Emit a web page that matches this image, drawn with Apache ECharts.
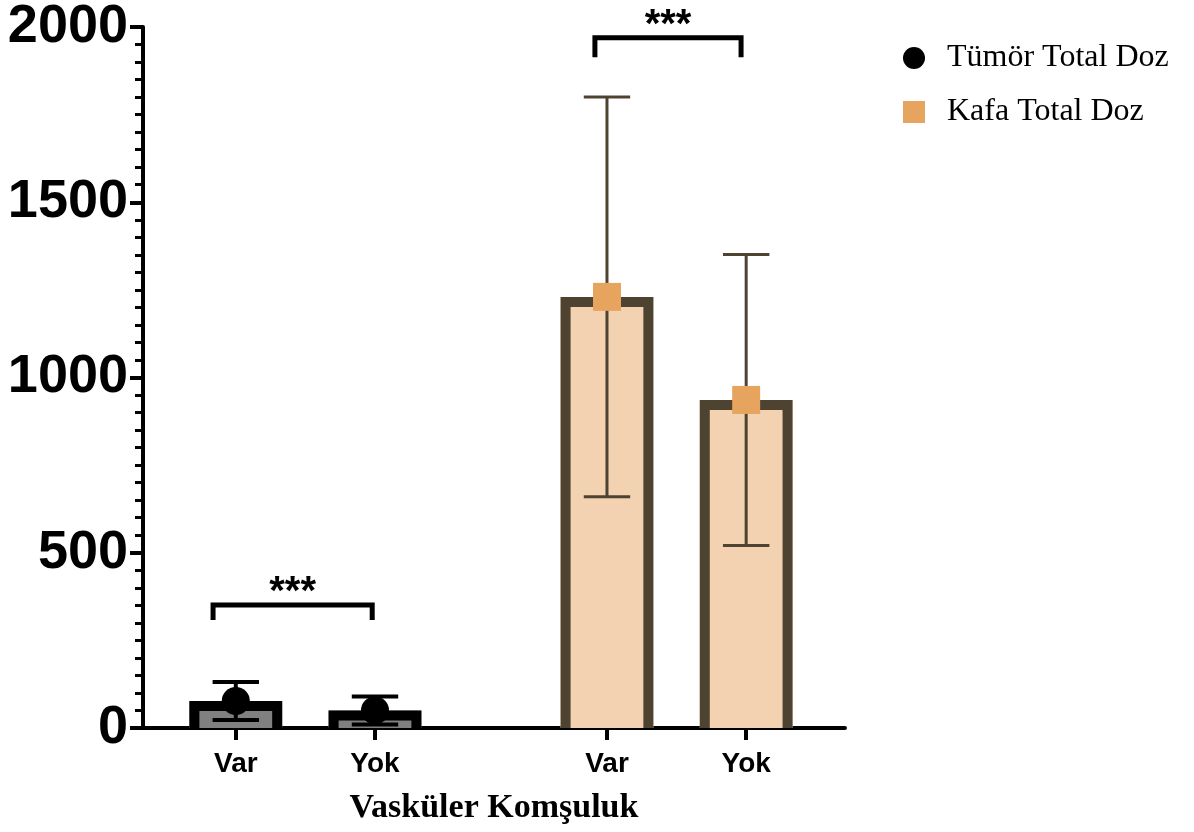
<!DOCTYPE html>
<html>
<head>
<meta charset="utf-8">
<script src="https://cdn.jsdelivr.net/npm/echarts@6/dist/echarts.min.js"></script>
<style>
  html, body { margin: 0; padding: 0; background: #ffffff; }
  #chart { width: 1194px; height: 832px; }
</style>
</head>
<body>
<div id="chart"></div>
<script>
// Vascular contact (Var = present, Yok = absent) for two dose measures
const categories = ['Var', 'Yok', 'Var', 'Yok'];
const xSlots = [2, 5, 10, 13];          // position of each group on the x axis
const tumorMean = [77, 50];
const tumorSD = [54, 40];
const headMean = [1230, 936];
const headSD = [570, 415];
const yTicks = [0, 500, 1000, 1500, 2000];
const seriesNames = ['Tümör Total Doz', 'Kafa Total Doz'];
const axisTitle = 'Vasküler Komşuluk';
const sigLabel = '***';
// significance brackets: [x from, x to, bracket level, leg end level]
const brackets = [
  [1.51, 4.94, 351, 308],
  [9.74, 12.89, 1969, 1914]
];

const SANS = '"Liberation Sans", Arial, Helvetica, sans-serif';
const SERIF = '"Liberation Serif", "Times New Roman", serif';
const BAR_SPAN = 2;   // bar width in x-axis units
const CAP_SPAN = 1;   // error cap width in x-axis units
const BORDER = 10;

const groupStyle = [
  { fill: '#808080', stroke: '#000000', err: '#000000', errWidth: 4 },
  { fill: '#F2D2B0', stroke: '#4E4231', err: '#4E4231', errWidth: 3 }
];

// rows: [x, mean, sd, group]
const rows = [];
tumorMean.forEach((m, i) => rows.push([xSlots[i], m, tumorSD[i], 0]));
headMean.forEach((m, i) => rows.push([xSlots[i + 2], m, headSD[i], 1]));

// open-bottom bar: filled body with a thick frame on the left, top and right
function renderBar(params, api) {
  const x = api.value(0), v = api.value(1), g = api.value(3);
  const top = api.coord([x, v]);
  const base = api.coord([x, 0]);
  const w = api.size([BAR_SPAN, 0])[0];
  const st = groupStyle[g];
  const l = top[0] - w / 2, r = top[0] + w / 2;
  const h = BORDER / 2;
  return {
    type: 'group',
    children: [
      {
        type: 'rect',
        shape: { x: l, y: top[1], width: w, height: base[1] - top[1] },
        style: { fill: st.fill }
      },
      {
        type: 'polyline',
        shape: { points: [[l + h, base[1]], [l + h, top[1] + h], [r - h, top[1] + h], [r - h, base[1]]] },
        style: { stroke: st.stroke, lineWidth: BORDER, fill: null, lineJoin: 'miter', lineCap: 'butt' }
      }
    ]
  };
}

function renderError(params, api) {
  const x = api.value(0), m = api.value(1), sd = api.value(2), g = api.value(3);
  const hi = api.coord([x, m + sd]);
  const lo = api.coord([x, m - sd]);
  const half = api.size([CAP_SPAN, 0])[0] / 2;
  const st = groupStyle[g];
  const ls = { stroke: st.err, lineWidth: st.errWidth };
  return {
    type: 'group',
    children: [
      { type: 'line', shape: { x1: hi[0], y1: hi[1], x2: lo[0], y2: lo[1] }, style: ls },
      { type: 'line', shape: { x1: hi[0] - half, y1: hi[1], x2: hi[0] + half, y2: hi[1] }, style: ls },
      { type: 'line', shape: { x1: lo[0] - half, y1: lo[1], x2: lo[0] + half, y2: lo[1] }, style: ls }
    ]
  };
}

function renderBracket(params, api) {
  const x1 = api.value(0), x2 = api.value(1), y = api.value(2), yLeg = api.value(3);
  const a = api.coord([x1, y]);
  const b = api.coord([x2, y]);
  const aLeg = api.coord([x1, yLeg]);
  const bLeg = api.coord([x2, yLeg]);
  return {
    type: 'group',
    children: [
      {
        type: 'polyline',
        shape: { points: [[aLeg[0], aLeg[1]], [a[0], a[1]], [b[0], b[1]], [bLeg[0], bLeg[1]]] },
        style: { stroke: '#000', lineWidth: 5, fill: null, lineJoin: 'miter' }
      },
      {
        type: 'text',
        x: (a[0] + b[0]) / 2,
        y: a[1] - 12,
        style: {
          text: sigLabel, fill: '#000', font: 'bold 40px ' + SANS,
          align: 'center', verticalAlign: 'middle'
        }
      }
    ]
  };
}

const chart = echarts.init(document.getElementById('chart'), null, { renderer: 'canvas' });

chart.setOption({
  backgroundColor: '#ffffff',
  animation: false,
  grid: { left: 143, right: 349, top: 27, bottom: 104, containLabel: false },
  legend: {
    orient: 'vertical',
    left: 898,
    top: 37,
    itemWidth: 22,
    itemHeight: 22,
    itemGap: 22,
    selectedMode: false,
    data: [
      { name: seriesNames[0], icon: 'circle' },
      { name: seriesNames[1], icon: 'rect' }
    ],
    textStyle: { fontFamily: SERIF, fontSize: 32, color: '#000', padding: [0, 0, 0, 17] }
  },
  xAxis: {
    type: 'value',
    min: 0,
    max: 15.13,
    name: axisTitle,
    nameLocation: 'middle',
    nameGap: 63,
    nameTextStyle: { fontFamily: SERIF, fontWeight: 'bold', fontSize: 34, color: '#000' },
    axisLine: { show: true, onZero: false, lineStyle: { color: '#000', width: 4 } },
    axisTick: { show: true, customValues: xSlots, length: 12, lineStyle: { color: '#000', width: 4 } },
    axisLabel: {
      customValues: xSlots,
      margin: 22,
      fontFamily: SANS, fontWeight: 'bold', fontSize: 28, color: '#000',
      formatter: v => categories[xSlots.indexOf(v)] || ''
    },
    splitLine: { show: false }
  },
  yAxis: {
    type: 'value',
    min: yTicks[0],
    max: yTicks[yTicks.length - 1],
    interval: yTicks[1] - yTicks[0],
    axisLine: { show: true, lineStyle: { color: '#000', width: 4 } },
    axisTick: { show: true, length: 13, lineStyle: { color: '#000', width: 4 } },
    minorTick: { show: true, splitNumber: 10, length: 8, lineStyle: { color: '#000', width: 3 } },
    axisLabel: {
      margin: 15, fontFamily: SANS, fontWeight: 'bold', fontSize: 54, color: '#000',
      formatter: v => String(v)
    },
    splitLine: { show: false }
  },
  series: [
    {
      type: 'custom', name: 'bars', z: 1,
      renderItem: renderBar,
      data: rows,
      encode: { x: 0, y: 1 },
      silent: true
    },
    {
      type: 'custom', name: 'errors', z: 2,
      renderItem: renderError,
      data: rows,
      encode: { x: 0, y: [1, 2] },
      silent: true
    },
    {
      type: 'scatter', name: seriesNames[0], z: 3,
      symbol: 'circle', symbolSize: 28,
      itemStyle: { color: '#000000', opacity: 1 },
      data: tumorMean.map((m, i) => [xSlots[i], m])
    },
    {
      type: 'scatter', name: seriesNames[1], z: 3,
      symbol: 'rect', symbolSize: 28,
      itemStyle: { color: '#E6A45E', opacity: 1 },
      data: headMean.map((m, i) => [xSlots[i + 2], m])
    },
    {
      type: 'custom', name: 'brackets', z: 4,
      renderItem: renderBracket,
      data: brackets,
      encode: { x: [0, 1], y: [2, 3] },
      silent: true
    }
  ]
});
</script>
</body>
</html>
